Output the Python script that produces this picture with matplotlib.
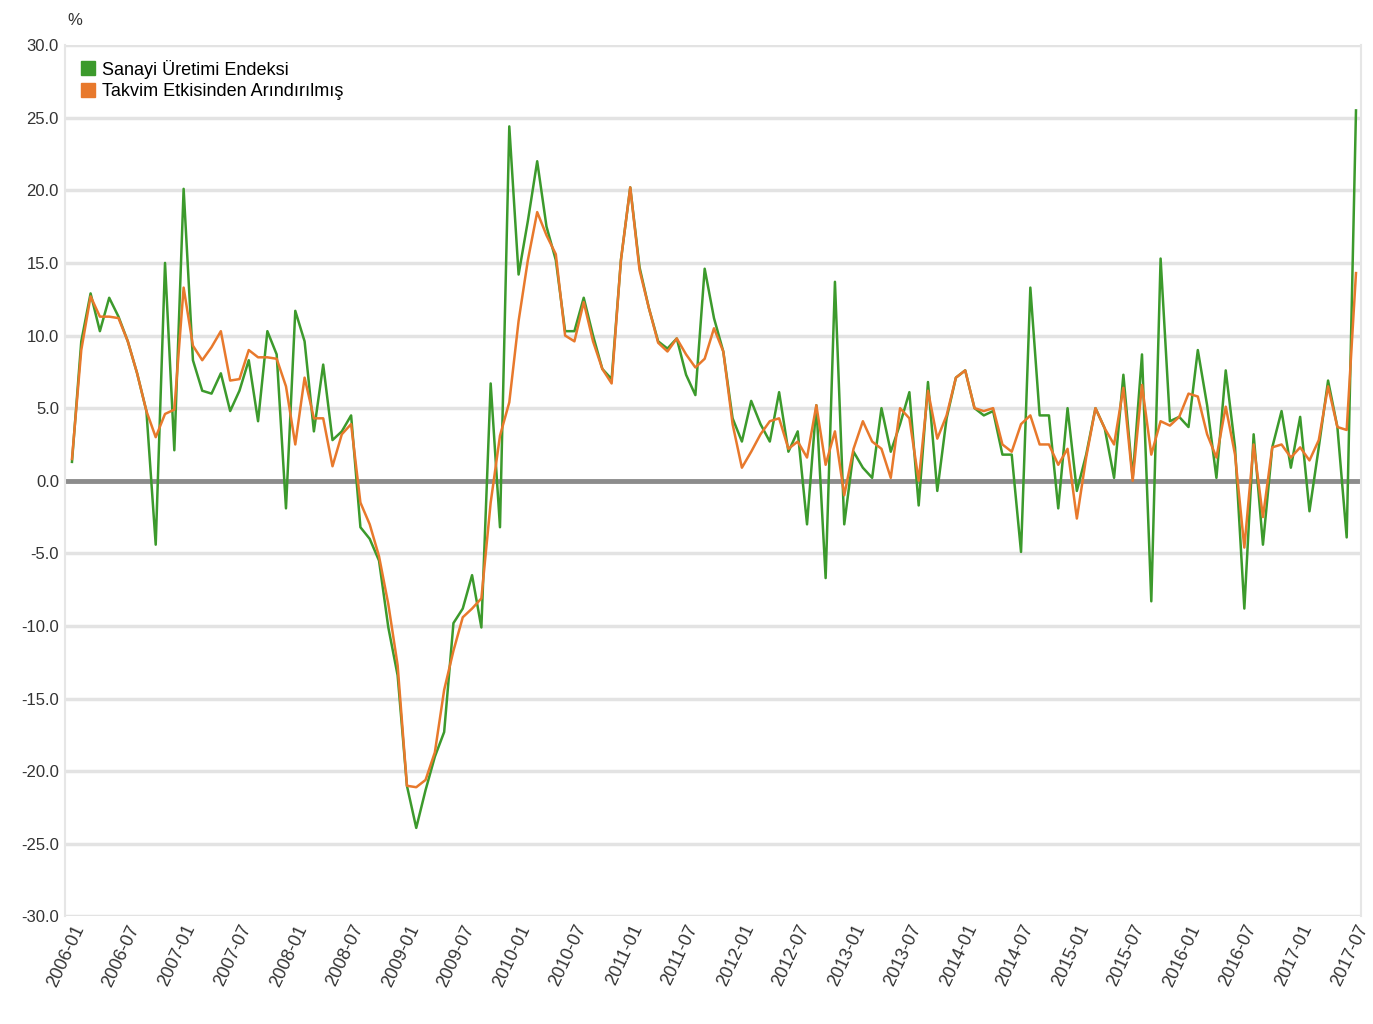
import numpy as np
import matplotlib
matplotlib.use("Agg")
import matplotlib.pyplot as plt
from matplotlib.lines import Line2D

plt.rcParams['font.family'] = ['Liberation Sans Narrow', 'Liberation Sans', 'DejaVu Sans']

# monthly, 2006-01 .. 2017-07
months = [f"{y}-{m:02d}" for y in range(2006, 2018) for m in range(1, 13)][:139]

sanayi = [1.3, 9.6, 12.9, 10.3, 12.6, 11.3, 9.6, 7.4, 4.8, -4.4, 15.0, 2.1,
          20.1, 8.3, 6.2, 6.0, 7.4, 4.8, 6.2, 8.3, 4.1, 10.3, 8.7, -1.9,
          11.7, 9.6, 3.4, 8.0, 2.8, 3.4, 4.5, -3.2, -4.0, -5.5, -10.1, -13.4,
          -21.0, -23.9, -21.3, -19.0, -17.3, -9.8, -8.8, -6.5, -10.1, 6.7, -3.2, 24.4,
          14.2, 17.9, 22.0, 17.5, 15.2, 10.3, 10.3, 12.6, 10.0, 7.7, 7.0, 15.2,
          20.2, 14.7, 11.9, 9.6, 9.1, 9.8, 7.3, 5.9, 14.6, 11.2, 8.9, 4.3,
          2.7, 5.5, 3.9, 2.7, 6.1, 2.0, 3.4, -3.0, 5.2, -6.7, 13.7, -3.0,
          2.0, 0.9, 0.2, 5.0, 2.0, 3.9, 6.1, -1.7, 6.8, -0.7, 4.3, 7.1,
          7.6, 5.0, 4.5, 4.8, 1.8, 1.8, -4.9, 13.3, 4.5, 4.5, -1.9, 5.0,
          -0.7, 1.8, 5.0, 3.6, 0.2, 7.3, 0.2, 8.7, -8.3, 15.3, 4.1, 4.4,
          3.7, 9.0, 5.2, 0.2, 7.6, 2.3, -8.8, 3.2, -4.4, 2.3, 4.8, 0.9,
          4.4, -2.1, 2.3, 6.9, 3.7, -3.9, 25.5]

takvim = [1.5, 9.0, 12.7, 11.3, 11.3, 11.2, 9.6, 7.4, 4.8, 3.0, 4.6, 4.9,
          13.3, 9.3, 8.3, 9.2, 10.3, 6.9, 7.0, 9.0, 8.5, 8.5, 8.4, 6.5,
          2.5, 7.1, 4.3, 4.3, 1.0, 3.2, 3.9, -1.5, -3.0, -5.2, -8.5, -12.7,
          -21.0, -21.1, -20.6, -18.7, -14.4, -11.7, -9.4, -8.8, -8.1, -1.5, 3.1, 5.4,
          11.0, 15.2, 18.5, 16.9, 15.6, 10.0, 9.6, 12.3, 9.6, 7.7, 6.7, 15.2,
          20.2, 14.5, 11.9, 9.5, 8.9, 9.8, 8.7, 7.8, 8.4, 10.5, 8.9, 3.9,
          0.9, 2.0, 3.2, 4.1, 4.3, 2.2, 2.7, 1.6, 5.2, 1.1, 3.4, -1.0,
          2.2, 4.1, 2.7, 2.2, 0.2, 5.0, 4.3, 0.0, 6.2, 2.9, 4.5, 7.1,
          7.6, 5.0, 4.8, 5.0, 2.5, 2.0, 3.9, 4.5, 2.5, 2.5, 1.1, 2.2,
          -2.6, 1.6, 5.0, 3.6, 2.5, 6.4, 0.0, 6.6, 1.8, 4.1, 3.8, 4.4,
          6.0, 5.8, 3.2, 1.6, 5.1, 1.8, -4.6, 2.5, -2.5, 2.3, 2.5, 1.6,
          2.3, 1.4, 2.8, 6.5, 3.7, 3.5, 14.3]

green = '#3c9a2c'
orange = '#e8792c'

fig = plt.figure(figsize=(13.73, 10.24), dpi=100)
ax = fig.add_axes([0.047, 0.105, 0.944, 0.851])

x = np.arange(len(months))
ax.plot(x, sanayi, color=green, lw=1.8, zorder=3)
ax.plot(x, takvim, color=orange, lw=1.8, zorder=4)

ax.set_ylim(-30, 30)
ax.set_xlim(-0.8, len(months) - 0.5)
yt = np.arange(-30, 31, 5)
ax.set_yticks(yt)
ax.set_yticklabels([f"{v:.1f}" for v in yt], fontsize=12, color='#333333')
for v in yt:
    if v == 0:
        ax.axhline(0, color='#8c8c8c', lw=3.5, zorder=2)
    else:
        ax.axhline(v, color='#e3e3e3', lw=2.5, zorder=1)

ticks = x[::6]
ax.set_xticks(ticks)
ax.set_xticklabels([months[i] for i in ticks], rotation=65, ha='right',
                   rotation_mode='anchor', fontsize=13, color='#333333')
ax.tick_params(length=0, pad=4)

for s in ['top', 'bottom']:
    ax.spines[s].set_visible(False)
ax.spines['left'].set_color('#e6e6e6')
ax.spines['right'].set_color('#e6e6e6')
ax.spines['left'].set_linewidth(1.5)
ax.spines['right'].set_linewidth(1.5)

ax.text(0.002, 1.02, '%', transform=ax.transAxes, fontsize=12, color='#333333',
        ha='left', va='bottom')

handles = [Line2D([], [], marker='s', ls='', color=green, markersize=10),
           Line2D([], [], marker='s', ls='', color=orange, markersize=10)]
ax.legend(handles, ['Sanayi Üretimi Endeksi', 'Takvim Etkisinden Arındırılmış'],
          loc='upper left', frameon=False, fontsize=13, handletextpad=0.3,
          borderaxespad=0.4, labelspacing=0.25, handlelength=1.0)

fig.savefig('out.png', dpi=100, facecolor='white')
